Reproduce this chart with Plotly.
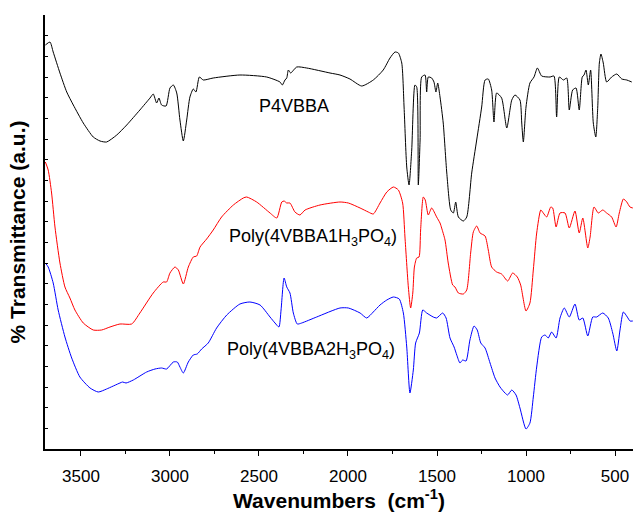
import plotly.graph_objects as go

# Wavenumbers (cm-1) and transmittance (arbitrary units, offset spectra)
p4vbba_wn = [3700, 3674, 3656, 3618, 3580, 3543, 3487, 3431, 3393, 3356, 3299, 3243, 3169, 3112, 3094, 3075,
             3062, 3047, 3022, 3000, 2981, 2962, 2944, 2925, 2906, 2888, 2869, 2854, 2835, 2813, 2757, 2607,
             2457, 2382, 2369, 2354, 2344, 2335, 2322, 2288, 2232, 2101, 2045, 1989, 1923, 1858, 1802, 1764,
             1736, 1717, 1698, 1685, 1670, 1657, 1642, 1624, 1614, 1605, 1595, 1586, 1567, 1558, 1549, 1530,
             1517, 1506, 1496, 1483, 1465, 1445, 1423, 1408, 1395, 1380, 1352, 1333, 1305, 1277, 1249, 1230,
             1212, 1193, 1180, 1165, 1137, 1108, 1080, 1062, 1034, 1024, 1015, 1000, 978, 955, 936, 912,
             865, 843, 828, 813, 790, 771, 757, 738, 719, 701, 684, 674, 663, 650, 637, 622,
             608, 597, 588, 579, 566, 547, 519, 490, 462, 434, 406]
p4vbba_t = [404, 407, 397, 376, 357, 344, 326, 312, 308, 307, 314, 324, 339, 351, 355, 346,
            351, 344, 343, 361, 364, 356, 329, 308, 329, 352, 360, 357, 372, 369, 371, 374,
            372, 367, 364, 369, 371, 379, 376, 382, 381, 376, 374, 370, 363, 369, 379, 391,
            397, 396, 386, 342, 282, 264, 299, 364, 362, 264, 309, 372, 374, 357, 372, 371,
            367, 357, 366, 352, 326, 276, 239, 236, 247, 232, 228, 232, 276, 309, 342, 369,
            370, 359, 327, 356, 351, 321, 349, 354, 349, 326, 307, 342, 366, 372, 381, 373,
            372, 373, 332, 372, 369, 371, 339, 359, 361, 339, 372, 374, 379, 364, 379, 326,
            312, 342, 386, 395, 386, 367, 372, 375, 370, 369, 367]

h3po4_1_wn = [3700, 3684, 3665, 3646, 3618, 3590, 3562, 3534, 3487, 3431, 3384, 3337, 3281, 3215, 3169, 3094,
              3038, 3019, 3000, 2972, 2953, 2925, 2897, 2869, 2850, 2831, 2794, 2757, 2710, 2644, 2588, 2569,
              2513, 2438, 2400, 2372, 2359, 2344, 2326, 2298, 2270, 2241, 2157, 2045, 1998, 1932, 1886, 1858,
              1820, 1782, 1745, 1717, 1693, 1680, 1661, 1648, 1636, 1627, 1614, 1601, 1592, 1577, 1566, 1549,
              1530, 1502, 1483, 1474, 1455, 1437, 1412, 1399, 1380, 1352, 1333, 1311, 1296, 1277, 1258, 1230,
              1212, 1193, 1165, 1137, 1103, 1075, 1049, 1030, 1000, 978, 959, 940, 917, 903, 884, 861,
              850, 831, 809, 781, 757, 725, 701, 681, 653, 640, 618, 594, 569, 547, 519, 494,
              476, 453, 434, 416, 400]
h3po4_1_t = [287, 279, 256, 222, 186, 162, 151, 139, 126, 119, 119, 122, 125, 125, 136, 156,
             167, 167, 176, 182, 179, 165, 182, 192, 193, 202, 210, 219, 232, 244, 251, 252,
             247, 236, 231, 247, 248, 246, 246, 237, 234, 239, 244, 247, 246, 241, 237, 235,
             246, 257, 262, 259, 246, 212, 162, 141, 156, 182, 191, 192, 219, 252, 249, 234,
             241, 232, 226, 221, 209, 186, 164, 162, 156, 155, 159, 196, 217, 223, 216, 213,
             199, 182, 177, 175, 168, 176, 172, 164, 138, 146, 179, 216, 239, 236, 232, 242,
             241, 222, 236, 236, 221, 238, 216, 231, 201, 212, 242, 236, 239, 236, 232, 222,
             236, 250, 247, 242, 241]

h3po4_2_wn = [3700, 3684, 3656, 3628, 3590, 3552, 3506, 3449, 3403, 3356, 3281, 3266, 3247, 3206, 3131, 3084,
              3047, 3019, 2981, 2959, 2944, 2925, 2897, 2869, 2847, 2822, 2785, 2738, 2681, 2607, 2551, 2494,
              2438, 2410, 2388, 2376, 2359, 2344, 2326, 2307, 2285, 2260, 2176, 2045, 1998, 1932, 1895, 1858,
              1820, 1782, 1745, 1712, 1689, 1670, 1652, 1633, 1620, 1599, 1580, 1558, 1521, 1502, 1468, 1449,
              1427, 1404, 1389, 1371, 1356, 1337, 1315, 1292, 1274, 1254, 1230, 1202, 1174, 1146, 1118, 1103,
              1080, 1056, 1034, 1000, 978, 959, 940, 912, 893, 875, 856, 831, 809, 785, 757, 725,
              701, 681, 653, 625, 603, 569, 538, 513, 490, 472, 453, 431, 416, 400]
h3po4_2_t = [186, 182, 166, 139, 112, 91, 72, 61, 57, 60, 66, 67, 66, 69, 77, 80,
             81, 80, 87, 87, 82, 76, 87, 94, 95, 100, 106, 121, 134, 145, 147, 144,
             132, 126, 122, 139, 171, 162, 156, 136, 125, 126, 132, 141, 141, 136, 131, 137,
             144, 149, 152, 150, 136, 102, 56, 79, 106, 116, 139, 136, 132, 131, 136, 131,
             111, 102, 94, 86, 89, 88, 109, 123, 119, 106, 101, 86, 71, 62, 56, 54,
             59, 54, 41, 20, 26, 52, 82, 112, 114, 111, 117, 111, 131, 141, 132, 145,
             129, 131, 113, 132, 132, 136, 131, 116, 98, 119, 137, 132, 128, 128]

labels = ["P4VBBA", "Poly(4VBBA1H<sub>3</sub>PO<sub>4</sub>)", "Poly(4VBBA2H<sub>3</sub>PO<sub>4</sub>)"]
label_x = [2303, 2197, 2208]
label_y = [343, 212, 99]
colors = ["#000000", "#ff0000", "#0000ff"]

x_tick_vals = [3500, 3000, 2500, 2000, 1500, 1000, 500]

FONT = "Arial, Liberation Sans, sans-serif"

fig = go.Figure()
for wn, t, c, name in [(p4vbba_wn, p4vbba_t, colors[0], "P4VBBA"),
                       (h3po4_1_wn, h3po4_1_t, colors[1], "1H3PO4"),
                       (h3po4_2_wn, h3po4_2_t, colors[2], "2H3PO4")]:
    fig.add_trace(go.Scatter(x=wn, y=t, mode="lines", name=name,
                             line=dict(color=c, width=1, shape="spline", smoothing=0.6),
                             showlegend=False, hoverinfo="skip"))

for lx, ly, txt in zip(label_x, label_y, labels):
    fig.add_annotation(x=lx, y=ly, text=txt, showarrow=False, xanchor="center", yanchor="middle",
                       font=dict(family=FONT, size=18, color="#000000"))

fig.update_layout(
    width=633, height=513,
    margin=dict(l=45, r=0, t=15, b=64),
    plot_bgcolor="white", paper_bgcolor="white",
    font=dict(family=FONT, color="#000000"),
    xaxis=dict(
        range=[3702, 399], showgrid=False, zeroline=False,
        showline=True, linecolor="black", linewidth=1.5,
        ticks="outside", ticklen=5, tickwidth=1.2, tickcolor="black",
        tickvals=x_tick_vals, tickfont=dict(family=FONT, size=17, color="black"),
        ticklabelstandoff=6,
        minor=dict(ticks="outside", ticklen=3, tickwidth=1, tickcolor="black", dtick=250, tick0=0, showgrid=False),
        title=dict(text="<b>Wavenumbers  (cm<sup>-1</sup>)</b>", font=dict(family=FONT, size=21, color="black"), standoff=6),
    ),
    yaxis=dict(
        range=[0, 434], showgrid=False, zeroline=False,
        showline=True, linecolor="black", linewidth=1.5,
        ticks="inside", ticklen=3, tickwidth=1, tickcolor="black",
        tick0=0, dtick=434 / 21, showticklabels=False,
        title=dict(text="<b>% Transmittance (a.u.)</b>", font=dict(family=FONT, size=21, color="black"), standoff=12),
    ),
)

fig.write_html("out.html")
